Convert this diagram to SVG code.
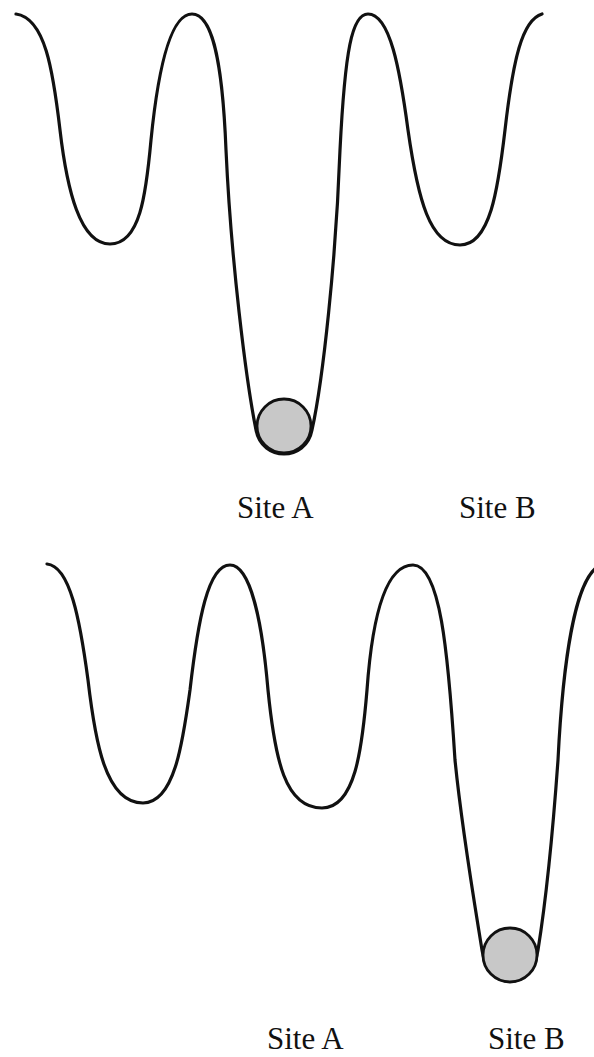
<svg xmlns="http://www.w3.org/2000/svg" width="594" height="1057" viewBox="0 0 594 1057">
<style>
.curve{fill:none;stroke:#111;stroke-width:3.2;stroke-linecap:round;stroke-linejoin:round}
.ball{fill:#c8c8c8;stroke:#111;stroke-width:2.8}
.lbl{font-family:"Liberation Serif","Times New Roman",serif;font-size:31px;fill:#111}
</style>
<rect width="594" height="1057" fill="#fff"/>
<g id="top-panel">
<g id="top-potential">
<path class="curve" d="M16,14 C45,18 53,70 60,130 C67,190 80,244 110,244 C140,244 146,195 151,140 C158,70 170,14 192,14 C210,14 222,50 226,150 C231,260 246,380 256,430 C262,462 306,462 312,430 C323,380 336,260 340,150 C345,50 352,14 368,14 C390,14 400,70 408,130 C418,200 430,245 460,245 C490,245 498,190 505,130 C513,60 522,20 542,14"/>
</g>
<g id="top-ball"><circle class="ball" cx="284" cy="426" r="27"/></g>
<g id="top-siteA"><text class="lbl" x="237" y="518">Site A</text></g>
<g id="top-siteB"><text class="lbl" x="459" y="518">Site B</text></g>
</g>
<g id="bottom-panel">
<g id="bottom-potential">
<path class="curve" d="M47,564 C70,566 80,620 88,680 C95,740 105,803 143,803 C175,803 183,740 190,690 C198,620 208,565 230,565 C250,565 262,620 268,690 C275,760 285,808 322,808 C355,808 362,750 367,690 C372,620 385,565 413,565 C440,565 448,650 455,760 C462,830 474,900 482,950 C488,992 532,992 538,950 C546,900 553,830 558,760 C563,660 575,585 596,568"/>
</g>
<g id="bottom-ball"><circle class="ball" cx="510" cy="955" r="27"/></g>
<g id="bottom-siteA"><text class="lbl" x="267" y="1049">Site A</text></g>
<g id="bottom-siteB"><text class="lbl" x="488" y="1049">Site B</text></g>
</g>
</svg>
